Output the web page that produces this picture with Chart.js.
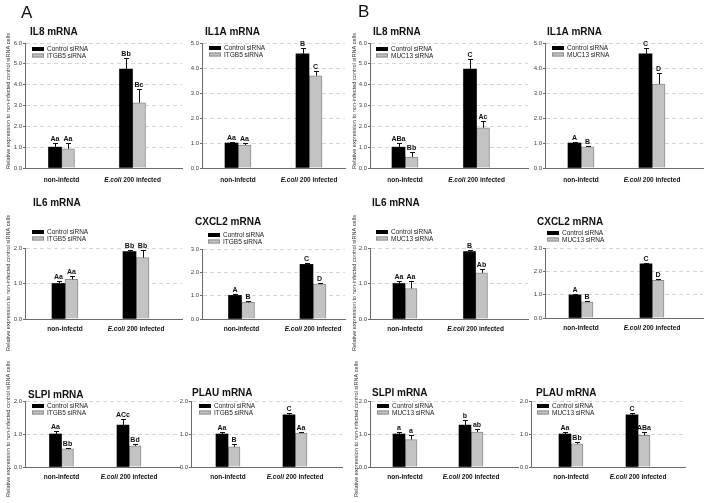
<!DOCTYPE html>
<html><head><meta charset="utf-8">
<script src="https://cdn.jsdelivr.net/npm/chart.js@4.4.1/dist/chart.umd.min.js"></script>
<style>
html,body{margin:0;padding:0;background:#fff;}
#wrap{position:relative;width:708px;height:503px;overflow:hidden;background:#fff;}
#wrap canvas{position:absolute;left:0;top:0;}
</style></head><body>
<div id="wrap"></div>
<script>
// ---------- data ----------
const categories = ['non-infectd', 'E.coli 200 infected'];
const seriesA = ['Control siRNA', 'ITGB5 siRNA'];
const seriesB = ['Control siRNA', 'MUC13 siRNA'];
const yTitle = 'Relative expression to non-infected control siRNA cells';

// Part A (ITGB5 knock-down)
const il8A_ctrl = [1.00, 4.75],  il8A_ctrlSE = [0.22, 0.53];
const il8A_kd   = [0.92, 3.13],  il8A_kdSE   = [0.26, 0.68];
const il8A_let  = [['Aa', 'Bb'], ['Aa', 'Bc']];
const il1aA_ctrl = [1.00, 4.57], il1aA_ctrlSE = [0.05, 0.23];
const il1aA_kd   = [0.92, 3.69], il1aA_kdSE   = [0.08, 0.20];
const il1aA_let  = [['Aa', 'B'], ['Aa', 'C']];
const il6A_ctrl = [1.00, 1.90],  il6A_ctrlSE = [0.06, 0.03];
const il6A_kd   = [1.12, 1.73],  il6A_kdSE   = [0.10, 0.20];
const il6A_let  = [['Aa', 'Bb'], ['Aa', 'Bb']];
const cxcl2A_ctrl = [1.01, 2.34], cxcl2A_ctrlSE = [0.05, 0.05];
const cxcl2A_kd   = [0.71, 1.50], cxcl2A_kdSE   = [0.05, 0.06];
const cxcl2A_let  = [['A', 'C'], ['B', 'D']];
const slpiA_ctrl = [1.00, 1.27], slpiA_ctrlSE = [0.08, 0.17];
const slpiA_kd   = [0.55, 0.64], slpiA_kdSE   = [0.02, 0.06];
const slpiA_let  = [['Aa', 'ACc'], ['Bb', 'Bd']];
const plauA_ctrl = [1.00, 1.58], plauA_ctrlSE = [0.06, 0.06];
const plauA_kd   = [0.61, 1.03], plauA_kdSE   = [0.08, 0.03];
const plauA_let  = [['Aa', 'C'], ['B', 'Aa']];

// Part B (MUC13 knock-down)
const il8B_ctrl = [1.00, 4.75],  il8B_ctrlSE = [0.19, 0.50];
const il8B_kd   = [0.53, 1.93],  il8B_kdSE   = [0.22, 0.35];
const il8B_let  = [['ABa', 'C'], ['Bb', 'Ac']];
const il1aB_ctrl = [1.00, 4.57], il1aB_ctrlSE = [0.05, 0.23];
const il1aB_kd   = [0.85, 3.36], il1aB_kdSE   = [0.04, 0.44];
const il1aB_let  = [['A', 'C'], ['B', 'D']];
const il6B_ctrl = [1.00, 1.90],  il6B_ctrlSE = [0.06, 0.05];
const il6B_kd   = [0.86, 1.30],  il6B_kdSE   = [0.21, 0.12];
const il6B_let  = [['Aa', 'B'], ['Aa', 'Ab']];
const cxcl2B_ctrl = [0.99, 2.32], cxcl2B_ctrlSE = [0.04, 0.05];
const cxcl2B_kd   = [0.69, 1.61], cxcl2B_kdSE   = [0.04, 0.07];
const cxcl2B_let  = [['A', 'C'], ['B', 'D']];
const slpiB_ctrl = [1.00, 1.27], slpiB_ctrlSE = [0.07, 0.16];
const slpiB_kd   = [0.83, 1.06], slpiB_kdSE   = [0.14, 0.08];
const slpiB_let  = [['a', 'b'], ['a', 'ab']];
const plauB_ctrl = [1.00, 1.58], plauB_ctrlSE = [0.07, 0.06];
const plauB_kd   = [0.70, 0.96], plauB_kdSE   = [0.05, 0.11];
const plauB_let  = [['Aa', 'C'], ['Bb', 'ABa']];

// ---------- panels (data refs + layout) ----------
const panels = [
 {title:'IL8 mRNA',  names:seriesA, m:[il8A_ctrl,il8A_kd], e:[il8A_ctrlSE,il8A_kdSE], lt:il8A_let, ymax:6,
  L:25, R:182, T:43, B:168, c1:61.5, c2:132.5, bw:13, tx:30, ty:32, lx:32, ly:49, xl:12, yt:[8,101], pl:['A',21,18]},
 {title:'IL1A mRNA', names:seriesA, m:[il1aA_ctrl,il1aA_kd], e:[il1aA_ctrlSE,il1aA_kdSE], lt:il1aA_let, ymax:5,
  L:202, R:345, T:43, B:168, c1:238, c2:309, bw:13, tx:205, ty:32, lx:209, ly:48, xl:12},
 {title:'IL8 mRNA',  names:seriesB, m:[il8B_ctrl,il8B_kd], e:[il8B_ctrlSE,il8B_kdSE], lt:il8B_let, ymax:6,
  L:370, R:528, T:43, B:168, c1:405, c2:476.5, bw:13, tx:373, ty:32, lx:376, ly:49, xl:12, yt:[354,101], pl:['B',358,17]},
 {title:'IL1A mRNA', names:seriesB, m:[il1aB_ctrl,il1aB_kd], e:[il1aB_ctrlSE,il1aB_kdSE], lt:il1aB_let, ymax:5,
  L:545, R:703, T:43, B:168, c1:581, c2:652, bw:13, tx:547, ty:32, lx:552, ly:48, xl:12},

 {title:'IL6 mRNA',  names:seriesA, m:[il6A_ctrl,il6A_kd], e:[il6A_ctrlSE,il6A_kdSE], lt:il6A_let, ymax:2,
  L:25, R:182, T:248, B:319, c1:65, c2:136, bw:13, tx:33, ty:203, lx:32, ly:232, xl:10, yt:[8,283]},
 {title:'CXCL2 mRNA', names:seriesA, m:[cxcl2A_ctrl,cxcl2A_kd], e:[cxcl2A_ctrlSE,cxcl2A_kdSE], lt:cxcl2A_let, ymax:3,
  L:202, R:345, T:249, B:319, c1:241.5, c2:313, bw:13, tx:195, ty:222, lx:208, ly:235, xl:10},
 {title:'IL6 mRNA',  names:seriesB, m:[il6B_ctrl,il6B_kd], e:[il6B_ctrlSE,il6B_kdSE], lt:il6B_let, ymax:2,
  L:370, R:528, T:248, B:319, c1:405, c2:475.5, bw:12, tx:372, ty:203, lx:376, ly:232, xl:10, yt:[354,283]},
 {title:'CXCL2 mRNA', names:seriesB, m:[cxcl2B_ctrl,cxcl2B_kd], e:[cxcl2B_ctrlSE,cxcl2B_kdSE], lt:cxcl2B_let, ymax:3,
  L:545, R:703, T:248, B:318, c1:581, c2:652, bw:12, tx:537, ty:222, lx:547, ly:233, xl:10},

 {title:'SLPI mRNA', names:seriesA, m:[slpiA_ctrl,slpiA_kd], e:[slpiA_ctrlSE,slpiA_kdSE], lt:slpiA_let, ymax:2,
  L:25, R:180, T:401, B:467, c1:61.5, c2:129, bw:12, tx:28, ty:395, lx:32, ly:406, xl:10, yt:[8,429]},
 {title:'PLAU mRNA', names:seriesA, m:[plauA_ctrl,plauA_kd], e:[plauA_ctrlSE,plauA_kdSE], lt:plauA_let, ymax:2,
  L:191, R:342, T:401, B:467, c1:228, c2:295, bw:12, tx:192, ty:393, lx:199, ly:406, xl:10},
 {title:'SLPI mRNA', names:seriesB, m:[slpiB_ctrl,slpiB_kd], e:[slpiB_ctrlSE,slpiB_kdSE], lt:slpiB_let, ymax:2,
  L:370, R:518, T:401, B:467, c1:405, c2:471, bw:12, tx:372, ty:393, lx:377, ly:406, xl:10, yt:[356,429]},
 {title:'PLAU mRNA', names:seriesB, m:[plauB_ctrl,plauB_kd], e:[plauB_ctrlSE,plauB_kdSE], lt:plauB_let, ymax:2,
  L:531, R:685, T:401, B:467, c1:571, c2:638, bw:12, tx:536, ty:393, lx:537, ly:406, xl:10},
];

const FONT = '"Liberation Sans", Arial, Helvetica, sans-serif';
const BAR_COLORS = ['#000000', '#c3c3c3'];
const BAR_BORDERS = ['#000000', '#8c8c8c'];
const W = 708, H = 503, YW = 20;

function decoPlugin(p) {
  return {
    id: 'deco',
    afterDatasetsDraw(chart) {
      const ctx = chart.ctx;
      const ys = chart.scales.y;
      ctx.save();
      for (let d = 0; d < 2; d++) {
        const meta = chart.getDatasetMeta(d);
        meta.data.forEach((bar, i) => {
          const yTop = Math.round(ys.getPixelForValue(p.m[d][i] + p.e[d][i])) + 0.5;
          const x = Math.round(bar.x) + 0.5;
          ctx.strokeStyle = '#111'; ctx.lineWidth = 1;
          ctx.beginPath();
          ctx.moveTo(x, bar.y); ctx.lineTo(x, yTop);
          ctx.moveTo(x - 2.5, yTop); ctx.lineTo(x + 2.5, yTop);
          ctx.stroke();
          ctx.fillStyle = '#111';
          ctx.font = 'bold 7px ' + FONT;
          ctx.textAlign = 'center'; ctx.textBaseline = 'alphabetic';
          ctx.fillText(p.lt[d][i], bar.x, yTop - 3);
        });
      }
      ctx.restore();
    },
    afterDraw(chart) {
      const ctx = chart.ctx;
      const xs = chart.scales.x;
      ctx.save();
      // title
      ctx.fillStyle = '#111';
      ctx.font = 'bold 10px ' + FONT;
      ctx.textAlign = 'left'; ctx.textBaseline = 'middle';
      ctx.fillText(p.title, p.tx, p.ty);
      // legend
      for (let k = 0; k < 2; k++) {
        const yy = p.ly + k * 6.5;
        ctx.fillStyle = BAR_COLORS[k];
        ctx.fillRect(p.lx, yy - 2, 12, 4);
        if (k === 1) { ctx.strokeStyle = BAR_BORDERS[1]; ctx.lineWidth = 1; ctx.strokeRect(p.lx + 0.5, yy - 1.5, 11, 3); }
        ctx.fillStyle = '#222';
        ctx.font = '6.5px ' + FONT;
        ctx.textAlign = 'left'; ctx.textBaseline = 'middle';
        ctx.fillText(p.names[k], p.lx + 15, yy + 0.3);
      }
      // x category labels
      ctx.fillStyle = '#111';
      ctx.textBaseline = 'middle';
      categories.forEach((c, i) => {
        const cx = xs.getPixelForValue(i + 1);
        const y = p.B + p.xl;
        const sp = c.indexOf(' ');
        if (c.startsWith('E.coli')) {
          const a = c.slice(0, sp), b = c.slice(sp);
          ctx.font = 'italic bold 6.5px ' + FONT; const wa = ctx.measureText(a).width;
          ctx.font = 'bold 6.5px ' + FONT; const wb = ctx.measureText(b).width;
          const x0 = cx - (wa + wb) / 2;
          ctx.textAlign = 'left';
          ctx.font = 'italic bold 6.5px ' + FONT; ctx.fillText(a, x0, y);
          ctx.font = 'bold 6.5px ' + FONT; ctx.fillText(b, x0 + wa, y);
        } else {
          ctx.font = 'bold 6.5px ' + FONT; ctx.textAlign = 'center';
          ctx.fillText(c, cx, y);
        }
      });
      // y axis title
      if (p.yt) {
        ctx.save();
        ctx.translate(p.yt[0], p.yt[1]);
        ctx.rotate(-Math.PI / 2);
        ctx.font = '5.6px ' + FONT; ctx.fillStyle = '#333';
        ctx.textAlign = 'center'; ctx.textBaseline = 'middle';
        ctx.fillText(yTitle, 0, 0);
        ctx.restore();
      }
      // panel letter
      if (p.pl) {
        ctx.font = '17px ' + FONT; ctx.fillStyle = '#111';
        ctx.textAlign = 'left'; ctx.textBaseline = 'alphabetic';
        ctx.fillText(p.pl[0], p.pl[1], p.pl[2]);
      }
      ctx.restore();
    }
  };
}

function build(p) {
  const cv = document.createElement('canvas');
  cv.width = W; cv.height = H;
  cv.style.width = W + 'px'; cv.style.height = H + 'px';
  document.getElementById('wrap').appendChild(cv);
  const unit = p.c2 - p.c1;
  const xmin = 1 - (p.c1 - p.L) / unit;
  const xmax = 2 + (p.R - p.c2) / unit;
  new Chart(cv, {
    type: 'bar',
    data: {
      datasets: [0, 1].map(d => ({
        label: p.names[d],
        data: p.m[d].map((v, i) => ({ x: i + 1, y: v })),
        backgroundColor: BAR_COLORS[d],
        borderColor: BAR_BORDERS[d],
        borderWidth: d === 1 ? 1 : 0,
        barThickness: p.bw,
        grouped: true
      }))
    },
    options: {
      responsive: false, animation: false, events: [],
      devicePixelRatio: 1,
      layout: { padding: { left: p.L - YW, right: W - p.R, top: p.T, bottom: H - p.B } },
      plugins: { legend: { display: false }, title: { display: false }, tooltip: { enabled: false } },
      scales: {
        x: {
          type: 'linear', min: xmin, max: xmax, offset: false,
          ticks: { display: false },
          grid: { display: false, drawTicks: false },
          border: { display: true, color: '#6a6a6a', width: 1 },
          afterFit: s => { s.height = 0; }
        },
        y: {
          min: 0, max: p.ymax,
          ticks: { stepSize: 1, callback: v => Number(v).toFixed(1), font: { family: FONT, size: 6 }, color: '#444', padding: 1 },
          grid: { color: '#d6d6d6', lineWidth: 1, tickColor: '#6a6a6a', tickLength: 2, tickBorderDash: [] },
          border: { display: true, color: '#6a6a6a', width: 1, dash: [4, 3] },
          afterFit: s => { s.width = YW; }
        }
      }
    },
    plugins: [decoPlugin(p)]
  });
}

panels.forEach(build);
</script>
</body></html>
